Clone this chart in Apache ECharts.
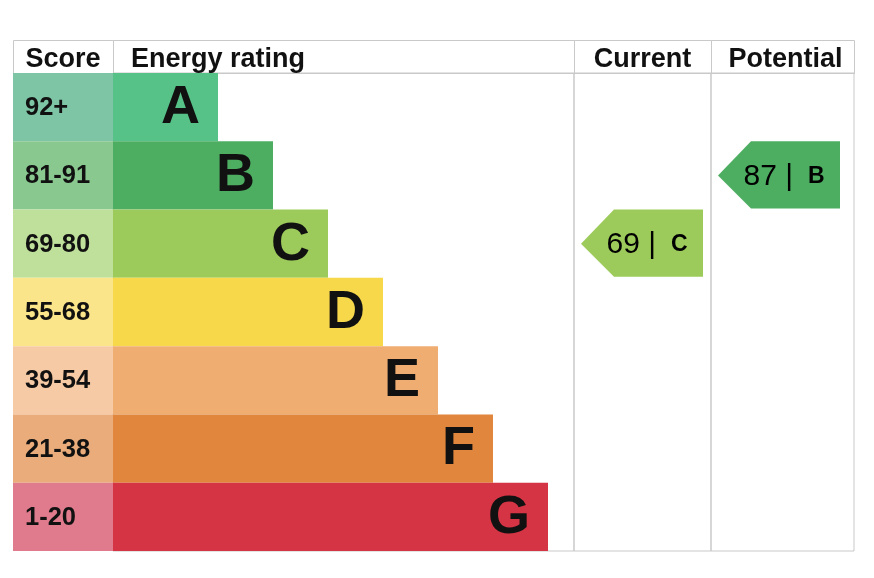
<!DOCTYPE html>
<html>
<head>
<meta charset="utf-8">
<script src="https://cdn.jsdelivr.net/npm/echarts@6/dist/echarts.min.js"></script>
<style>
html,body{margin:0;padding:0;background:#fff;}
#chart{width:874px;height:578px;}
</style>
</head>
<body>
<div id="chart"></div>
<script>
// ---- data ----
const ratings = ['A', 'B', 'C', 'D', 'E', 'F', 'G'];
const scoreRanges = ['92+', '81-91', '69-80', '55-68', '39-54', '21-38', '1-20'];
const barLengths = [21, 32, 43, 54, 65, 76, 87];
const currentValue = [69];
const currentRating = ['C'];
const potentialValue = [87];
const potentialRating = ['B'];
const headers = ['Score', 'Energy rating', 'Current', 'Potential'];

// ---- styles ----
const barColors = ['#56c287', '#4dae62', '#9dcb5b', '#f7d84b', '#efad72', '#e0863d', '#d43443'];
const scoreColors = ['#7ec5a6', '#89c98f', '#bfe09a', '#fbe58a', '#f6caa4', '#e9ac7a', '#e07b8d'];
const lineColor = '#c9c9c9';
const FONT = '"Liberation Sans", Arial, sans-serif';

const chart = echarts.init(document.getElementById('chart'), null, {renderer: 'canvas'});

const T = 73, H = 478; // body area
const cols = [
  {left: 13, width: 100},
  {left: 113, width: 461},
  {left: 574, width: 137},
  {left: 711, width: 143}
];

function arrowRenderer(rating, color) {
  return function (params, api) {
    const cs = params.coordSys;
    const c = api.coord([api.value(0), api.value(1)]);
    const h = api.size([0, 1])[1];
    const top = c[1] - h / 2;
    const bot = c[1] + h / 2 - 1;
    const x0 = cs.x + 7, x1 = x0 + 122, tip = 33;
    const val = api.value(2);
    return {
      type: 'group',
      children: [
        {type: 'polygon', shape: {points: [[x0, c[1]], [x0 + tip, top], [x1, top], [x1, bot], [x0 + tip, bot]]},
         style: {fill: color}},
        {type: 'text', style: {
          x: x0 + 66, y: c[1] + 1, text: '{n|' + val + ' | }  {l|' + rating + '}',
          align: 'center', verticalAlign: 'middle',
          rich: {
            n: {fontFamily: FONT, fontSize: 30, color: '#111'},
            l: {fontFamily: FONT, fontSize: 23, fontWeight: 'bold', color: '#111'}
          }
        }}
      ]
    };
  };
}

const grids = cols.map((c, i) => ({
  left: c.left, top: T, width: c.width, height: H,
  show: i >= 1, borderColor: lineColor, borderWidth: 1, backgroundColor: 'transparent'
}));

const xAxes = [
  {gridIndex: 0, type: 'value', min: 0, max: 1, show: false},
  {gridIndex: 1, type: 'value', min: 0, max: 92.2, show: false},
  {gridIndex: 2, type: 'value', min: 0, max: 1, show: false},
  {gridIndex: 3, type: 'value', min: 0, max: 1, show: false}
];
const yAxes = [0, 1, 2, 3].map(i => ({
  gridIndex: i, type: 'category', data: ratings, inverse: true, show: false
}));

// header graphics
const graphic = [];
const headerTop = 40, headerH = 33;
const headerCells = [
  {x: 13, w: 100, align: 'center'},
  {x: 113, w: 461, align: 'left'},
  {x: 574, w: 137, align: 'center'},
  {x: 711, w: 143, align: 'center'}
];
headerCells.forEach((hc, i) => {
  graphic.push({
    type: 'rect', shape: {x: hc.x + 0.5, y: headerTop + 0.5, width: hc.w, height: headerH},
    style: {fill: 'none', stroke: lineColor, lineWidth: 1}, silent: true
  });
  graphic.push({
    type: 'text',
    x: hc.align === 'center' ? hc.x + hc.w / 2 + (i === 3 ? 3 : 0) : hc.x + 18,
    y: headerTop + headerH / 2 + 3,
    style: {text: headers[i], fontFamily: FONT, fontSize: 27, fontWeight: 'bold', fill: '#111',
      align: hc.align, verticalAlign: 'middle'},
    silent: true
  });
});

const option = {
  animation: false,
  backgroundColor: '#fff',
  grid: grids,
  xAxis: xAxes,
  yAxis: yAxes,
  graphic: graphic,
  series: [
    {
      type: 'bar', xAxisIndex: 0, yAxisIndex: 0, barCategoryGap: 0,
      data: scoreRanges.map((s, i) => ({value: 1, itemStyle: {color: scoreColors[i]}})),
      label: {show: true, position: 'insideLeft', distance: 12, offset: [0, 1],
        formatter: p => scoreRanges[p.dataIndex],
        fontFamily: FONT, fontSize: 25.5, fontWeight: 'bold', color: '#111'},
      silent: true
    },
    {
      type: 'bar', xAxisIndex: 1, yAxisIndex: 1, barCategoryGap: 0,
      data: barLengths.map((v, i) => ({value: v, itemStyle: {color: barColors[i]}})),
      label: {show: true, position: 'insideRight', distance: 18, offset: [0, 1],
        formatter: p => ratings[p.dataIndex],
        fontFamily: FONT, fontSize: 54, fontWeight: 'bold', color: '#111'},
      silent: true
    },
    {
      type: 'custom', xAxisIndex: 2, yAxisIndex: 2,
      data: currentValue.map((v, i) => [0, currentRating[i], v]),
      encode: {x: 0, y: 1},
      renderItem: arrowRenderer(currentRating[0], barColors[ratings.indexOf(currentRating[0])]),
      silent: true
    },
    {
      type: 'custom', xAxisIndex: 3, yAxisIndex: 3,
      data: potentialValue.map((v, i) => [0, potentialRating[i], v]),
      encode: {x: 0, y: 1},
      renderItem: arrowRenderer(potentialRating[0], barColors[ratings.indexOf(potentialRating[0])]),
      silent: true
    }
  ]
};
chart.setOption(option);
</script>
</body>
</html>
